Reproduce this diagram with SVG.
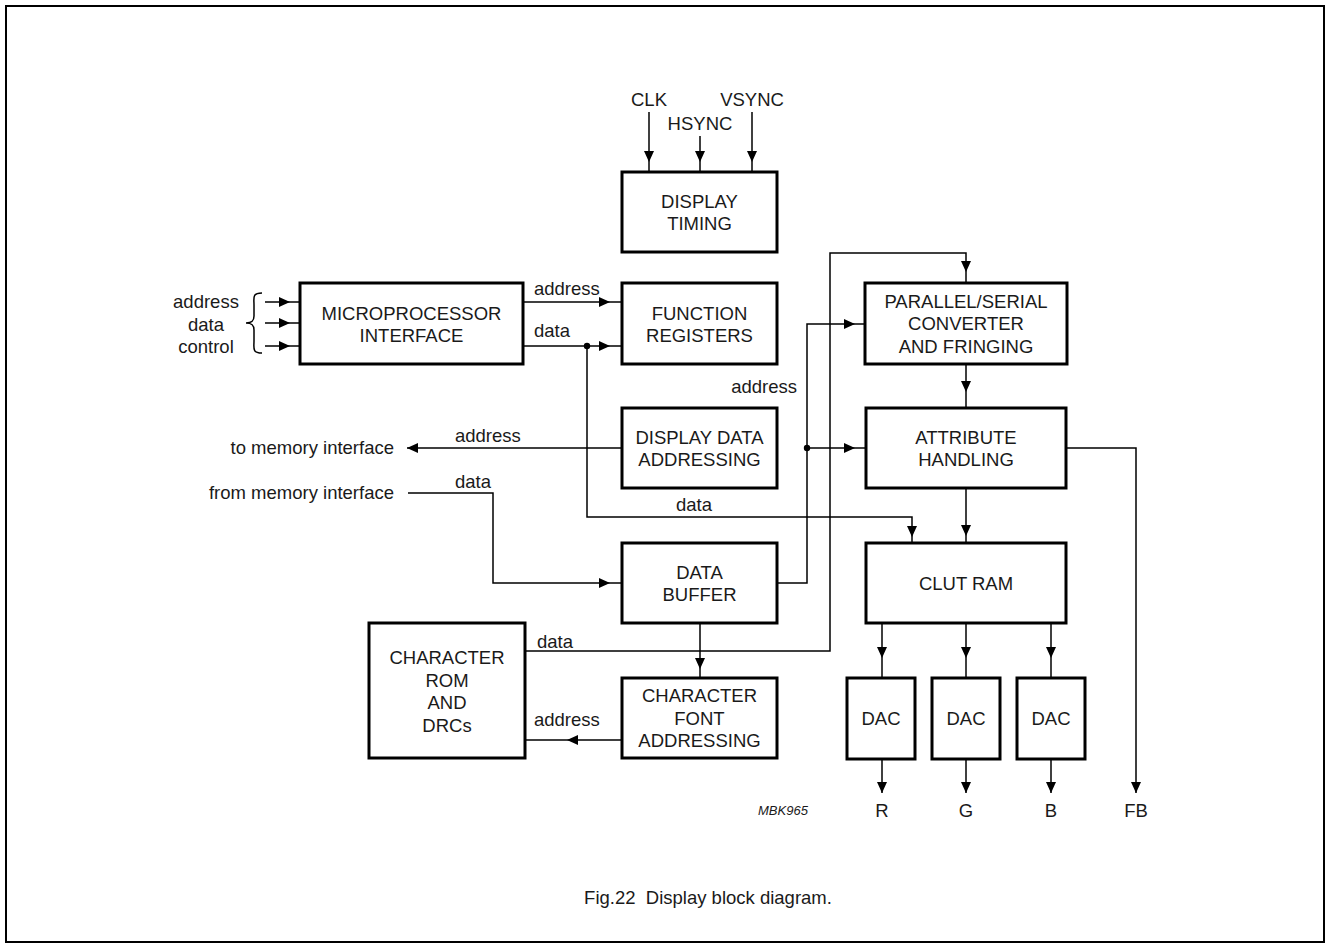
<svg xmlns="http://www.w3.org/2000/svg" width="1327" height="945" viewBox="0 0 1327 945">
<defs>
<style>
.box{fill:#fff;stroke:#000;stroke-width:3}
.ln{fill:none;stroke:#000;stroke-width:1.5}
.t{font-family:"Liberation Sans",Arial,sans-serif;font-size:18.5px;fill:#1a1a1a;text-anchor:middle}
.l{font-family:"Liberation Sans",Arial,sans-serif;font-size:18.5px;fill:#1a1a1a}
.r{text-anchor:end}
.s{font-family:"Liberation Sans",Arial,sans-serif;font-size:13px;font-style:italic;fill:#1a1a1a}
</style>
<marker id="arr" markerUnits="userSpaceOnUse" markerWidth="11" markerHeight="10" refX="11" refY="5" orient="auto">
<path d="M0,0 L11,5 L0,10 Z" fill="#000"/>
</marker>
</defs>
<rect x="6" y="6" width="1318" height="936" fill="#fff" stroke="#000" stroke-width="2"/>

<g id="connectors">
<!-- inputs to display timing -->
<path class="ln" d="M649,112 V162" marker-end="url(#arr)"/><path class="ln" d="M649,162 V172"/>
<path class="ln" d="M700,136 V162" marker-end="url(#arr)"/><path class="ln" d="M700,162 V172"/>
<path class="ln" d="M752,112 V162" marker-end="url(#arr)"/><path class="ln" d="M752,162 V172"/>
<!-- MP inputs -->
<path class="ln" d="M265,302 H290" marker-end="url(#arr)"/><path class="ln" d="M290,302 H300"/>
<path class="ln" d="M265,323 H290" marker-end="url(#arr)"/><path class="ln" d="M290,323 H300"/>
<path class="ln" d="M265,346 H290" marker-end="url(#arr)"/><path class="ln" d="M290,346 H300"/>
<path class="ln" d="M262,293 C252,293 254,298 254,305 V316 C254,321 252,323 246,323 C252,323 254,325 254,330 V341 C254,348 252,353 262,353"/>
<!-- MP to FR -->
<path class="ln" d="M523,302 H610" marker-end="url(#arr)"/><path class="ln" d="M610,302 H622"/>
<path class="ln" d="M523,346 H610" marker-end="url(#arr)"/><path class="ln" d="M610,346 H622"/>
<!-- data branch to CLUT -->
<path class="ln" d="M587,346 V517 H912 V537" marker-end="url(#arr)"/><path class="ln" d="M912,537 V543"/>
<circle cx="587" cy="346" r="3.2" fill="#000"/>
<!-- to memory interface -->
<path class="ln" d="M622,448 H407" marker-end="url(#arr)"/>
<!-- from memory interface -->
<path class="ln" d="M408,493 H493 V583 H610" marker-end="url(#arr)"/><path class="ln" d="M610,583 H622"/>
<!-- data buffer address line -->
<path class="ln" d="M777,583 H807 V324 H855" marker-end="url(#arr)"/><path class="ln" d="M855,324 H865"/>
<path class="ln" d="M807,448 H855" marker-end="url(#arr)"/><path class="ln" d="M855,448 H866"/>
<circle cx="807" cy="448" r="3.2" fill="#000"/>
<!-- character ROM data -->
<path class="ln" d="M525,651 H830 V253 H966 V272" marker-end="url(#arr)"/><path class="ln" d="M966,272 V283"/>
<!-- parallel to attribute -->
<path class="ln" d="M966,364 V392" marker-end="url(#arr)"/><path class="ln" d="M966,392 V408"/>
<!-- attribute to clut -->
<path class="ln" d="M966,488 V536" marker-end="url(#arr)"/><path class="ln" d="M966,536 V543"/>
<!-- FB -->
<path class="ln" d="M1066,448 H1136 V793" marker-end="url(#arr)"/>
<!-- data buffer to char font -->
<path class="ln" d="M700,623 V669" marker-end="url(#arr)"/><path class="ln" d="M700,669 V678"/>
<!-- char font to char rom -->
<path class="ln" d="M622,740 H567" marker-end="url(#arr)"/><path class="ln" d="M567,740 H525"/>
<!-- CLUT to DACs -->
<path class="ln" d="M882,623 V658" marker-end="url(#arr)"/><path class="ln" d="M882,658 V678"/>
<path class="ln" d="M966,623 V658" marker-end="url(#arr)"/><path class="ln" d="M966,658 V678"/>
<path class="ln" d="M1051,623 V658" marker-end="url(#arr)"/><path class="ln" d="M1051,658 V678"/>
<!-- DAC outputs -->
<path class="ln" d="M882,759 V793" marker-end="url(#arr)"/>
<path class="ln" d="M966,759 V793" marker-end="url(#arr)"/>
<path class="ln" d="M1051,759 V793" marker-end="url(#arr)"/>
</g>

<g id="labels">
<text class="t" x="649" y="105.5">CLK</text>
<text class="t" x="700" y="129.5">HSYNC</text>
<text class="t" x="752" y="105.5">VSYNC</text>
<text class="t" x="206" y="308">address</text>
<text class="t" x="206" y="331">data</text>
<text class="t" x="206" y="353">control</text>
<text class="l" x="534" y="294.5">address</text>
<text class="l" x="534" y="336.5">data</text>
<text class="l r" x="797" y="392.5">address</text>
<text class="l" x="455" y="442">address</text>
<text class="l r" x="394" y="453.5">to memory interface</text>
<text class="l" x="455" y="487.5">data</text>
<text class="l r" x="394" y="499">from memory interface</text>
<text class="l" x="676" y="510.5">data</text>
<text class="l" x="537" y="648">data</text>
<text class="l" x="534" y="726">address</text>
<text class="t" x="882" y="816.5">R</text>
<text class="t" x="966" y="816.5">G</text>
<text class="t" x="1051" y="816.5">B</text>
<text class="t" x="1136" y="816.5">FB</text>
<text class="s" x="758" y="815">MBK965</text>
<text class="t" x="708" y="904" xml:space="preserve">Fig.22  Display block diagram.</text>
</g>

<g id="display-timing">
<rect class="box" x="622" y="172" width="155" height="80"/>
<text class="t" x="699.5" y="207.5">DISPLAY</text>
<text class="t" x="699.5" y="229.5">TIMING</text>
</g>
<g id="microprocessor-interface">
<rect class="box" x="300" y="283" width="223" height="81"/>
<text class="t" x="411.5" y="319.5">MICROPROCESSOR</text>
<text class="t" x="411.5" y="341.5">INTERFACE</text>
</g>
<g id="function-registers">
<rect class="box" x="622" y="283" width="155" height="81"/>
<text class="t" x="699.5" y="319.5">FUNCTION</text>
<text class="t" x="699.5" y="341.5">REGISTERS</text>
</g>
<g id="display-data-addressing">
<rect class="box" x="622" y="408" width="155" height="80"/>
<text class="t" x="699.5" y="443.5">DISPLAY DATA</text>
<text class="t" x="699.5" y="465.5">ADDRESSING</text>
</g>
<g id="data-buffer">
<rect class="box" x="622" y="543" width="155" height="80"/>
<text class="t" x="699.5" y="578.5">DATA</text>
<text class="t" x="699.5" y="600.5">BUFFER</text>
</g>
<g id="character-font-addressing">
<rect class="box" x="622" y="678" width="155" height="80"/>
<text class="t" x="699.5" y="702">CHARACTER</text>
<text class="t" x="699.5" y="724.5">FONT</text>
<text class="t" x="699.5" y="747">ADDRESSING</text>
</g>
<g id="character-rom">
<rect class="box" x="369" y="623" width="156" height="135"/>
<text class="t" x="447" y="663.5">CHARACTER</text>
<text class="t" x="447" y="686.5">ROM</text>
<text class="t" x="447" y="709">AND</text>
<text class="t" x="447" y="731.5">DRCs</text>
</g>
<g id="parallel-serial">
<rect class="box" x="865" y="283" width="202" height="81"/>
<text class="t" x="966" y="307.5">PARALLEL/SERIAL</text>
<text class="t" x="966" y="330">CONVERTER</text>
<text class="t" x="966" y="352.5">AND FRINGING</text>
</g>
<g id="attribute-handling">
<rect class="box" x="866" y="408" width="200" height="80"/>
<text class="t" x="966" y="443.5">ATTRIBUTE</text>
<text class="t" x="966" y="465.5">HANDLING</text>
</g>
<g id="clut-ram">
<rect class="box" x="866" y="543" width="200" height="80"/>
<text class="t" x="966" y="590">CLUT RAM</text>
</g>
<g id="dac-r">
<rect class="box" x="847" y="678" width="68" height="81"/>
<text class="t" x="881" y="725">DAC</text>
</g>
<g id="dac-g">
<rect class="box" x="932" y="678" width="68" height="81"/>
<text class="t" x="966" y="725">DAC</text>
</g>
<g id="dac-b">
<rect class="box" x="1017" y="678" width="68" height="81"/>
<text class="t" x="1051" y="725">DAC</text>
</g>
</svg>
